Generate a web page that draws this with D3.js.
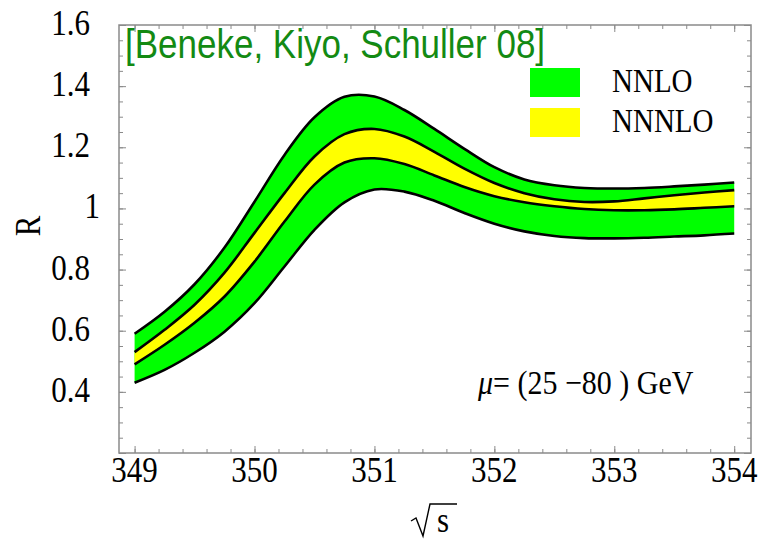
<!DOCTYPE html>
<html>
<head>
<meta charset="utf-8">
<script src="https://cdn.jsdelivr.net/npm/d3@7"></script>
<style>
  body { margin: 0; background: #fff; }
  text { font-family: 'Liberation Serif', 'Times New Roman', serif; }
</style>
</head>
<body>
<svg id="chart" width="759" height="541"></svg>
<script>
// sqrt(s) grid in GeV
const energies = [349, 349.25, 349.5, 349.75, 350, 350.25, 350.5, 350.75, 351, 351.25, 351.5,
  351.75, 352, 352.25, 352.5, 352.75, 353, 353.25, 353.5, 353.75, 354];

// band edges
const nnloUpper = [0.59, 0.662, 0.752, 0.872, 1.022, 1.175, 1.298, 1.365, 1.366, 1.322, 1.26,
  1.195, 1.135, 1.095, 1.076, 1.067, 1.065, 1.067, 1.072, 1.078, 1.085];
const nnnloUpper = [0.53, 0.603, 0.685, 0.79, 0.92, 1.05, 1.17, 1.243, 1.26, 1.235, 1.185,
  1.13, 1.083, 1.05, 1.03, 1.021, 1.023, 1.033, 1.043, 1.052, 1.06];
const nnnloLower = [0.49, 0.554, 0.626, 0.712, 0.826, 0.957, 1.078, 1.15, 1.164, 1.145, 1.108,
  1.07, 1.04, 1.02, 1.007, 0.998, 0.994, 0.994, 0.997, 1.002, 1.007];
const nnloLower = [0.43, 0.472, 0.528, 0.597, 0.69, 0.81, 0.93, 1.02, 1.062, 1.055, 1.025,
  0.985, 0.95, 0.925, 0.91, 0.903, 0.902, 0.904, 0.908, 0.912, 0.918];

const xTicks = [349, 350, 351, 352, 353, 354];
const yTicks = [0.4, 0.6, 0.8, 1, 1.2, 1.4, 1.6];
const legendItems = [
  { name: 'NNLO', color: '#00ff00' },
  { name: 'NNNLO', color: '#ffff00' }
];

const svg = d3.select('#chart');
const x = d3.scaleLinear().domain([348.87, 354.14]).range([119, 751]);
const y = d3.scaleLinear().domain([0.2, 1.6]).range([453, 25]);
const stretch = 1.15;

// text in the source is a bit taller than it is wide
function label (txt, px, py, anchor, size, family, fill) {
  let g = svg.append('g')
    .attr('transform', 'translate(' + px + ',' + py + ') scale(1,' + stretch + ')');
  let t = g.append('text')
    .attr('text-anchor', anchor)
    .attr('font-size', size)
    .attr('fill', fill || '#000')
    .text(txt);
  if (family) {
    t.style('font-family', family);
  }
  return t;
}

// bands
let band = (lo, hi) => d3.area()
  .x((d, i) => x(energies[i]))
  .y0((d, i) => y(lo[i]))
  .y1((d, i) => y(hi[i]))
  .curve(d3.curveCatmullRom.alpha(0.5));

svg.append('path')
  .datum(energies)
  .attr('d', band(nnloLower, nnloUpper))
  .attr('fill', '#00ff00');

svg.append('path')
  .datum(energies)
  .attr('d', band(nnnloLower, nnnloUpper))
  .attr('fill', '#ffff00');

let line = d3.line()
  .x((d, i) => x(energies[i]))
  .y(d => y(d))
  .curve(d3.curveCatmullRom.alpha(0.5));

[nnloUpper, nnnloUpper, nnnloLower, nnloLower].forEach(series => {
  svg.append('path')
    .datum(series)
    .attr('d', line)
    .attr('fill', 'none')
    .attr('stroke', '#000')
    .attr('stroke-width', 2.6);
});

// frame with inward ticks on all sides
let frameColor = '#8a8a8a';
let xMinor = d3.range(349, 354.01, 0.2);
let yMinor = d3.range(0.2, 1.601, 0.05);
let yMajor = d3.range(0.2, 1.601, 0.2);

let axes = [
  { axis: d3.axisBottom(x), at: 'translate(0,' + y.range()[0] + ')', minor: xMinor, major: xTicks },
  { axis: d3.axisTop(x), at: 'translate(0,' + y.range()[1] + ')', minor: xMinor, major: xTicks },
  { axis: d3.axisLeft(y), at: 'translate(' + x.range()[0] + ',0)', minor: yMinor, major: yMajor },
  { axis: d3.axisRight(y), at: 'translate(' + x.range()[1] + ',0)', minor: yMinor, major: yMajor }
];

axes.forEach(a => {
  let gMinor = svg.append('g')
    .attr('transform', a.at)
    .call(a.axis.tickValues(a.minor).tickSize(-4).tickFormat(''));
  gMinor.select('.domain').remove();
  gMinor.selectAll('line').attr('stroke', frameColor);
  let gMajor = svg.append('g')
    .attr('transform', a.at)
    .call(a.axis.tickValues(a.major).tickSize(-7).tickFormat(''));
  gMajor.select('.domain').remove();
  gMajor.selectAll('line').attr('stroke', frameColor);
});

svg.append('rect')
  .attr('x', x.range()[0])
  .attr('y', y.range()[1])
  .attr('width', x.range()[1] - x.range()[0])
  .attr('height', y.range()[0] - y.range()[1])
  .attr('fill', 'none')
  .attr('stroke', frameColor)
  .attr('stroke-width', 1.5);

// tick labels
xTicks.forEach(t => {
  label(d3.format('d')(t), x(t), 482, 'middle', 31);
});
yTicks.forEach(t => {
  let txt = t === 1 ? '1' : d3.format('.1f')(t);
  let px = t === 1 ? 100 : 90;
  label(txt, px, y(t) + 10, 'end', 31);
});

// axis titles
svg.append('g')
  .attr('transform', 'translate(40,226) rotate(-90) scale(1,' + stretch + ')')
  .append('text')
  .attr('text-anchor', 'middle')
  .attr('font-size', 31)
  .text('R');

// radical sign with its bar over the s
svg.append('path')
  .attr('d', 'M411,521 L416,518 L423,536 L430,504 L457,504')
  .attr('fill', 'none')
  .attr('stroke', '#000')
  .attr('stroke-width', 1.4)
  .attr('stroke-linejoin', 'miter');
label('s', 443, 532, 'middle', 31);

// citation
label('[Beneke, Kiyo, Schuller 08]', 125, 58, 'start', 35, "'Liberation Sans', Arial, sans-serif", '#138a13');

// legend
legendItems.forEach((item, i) => {
  svg.append('rect')
    .attr('x', 530)
    .attr('y', 68 + i * 40)
    .attr('width', 50)
    .attr('height', 29)
    .attr('fill', item.color);
  label(item.name, 612, 92 + i * 40, 'start', 29);
});

// scale annotation
let note = label('', 478, 394, 'start', 30);
note.append('tspan').attr('font-style', 'italic').text('\u03BC');
note.append('tspan').text('= (25 \u221280 ) GeV');
</script>
</body>
</html>
